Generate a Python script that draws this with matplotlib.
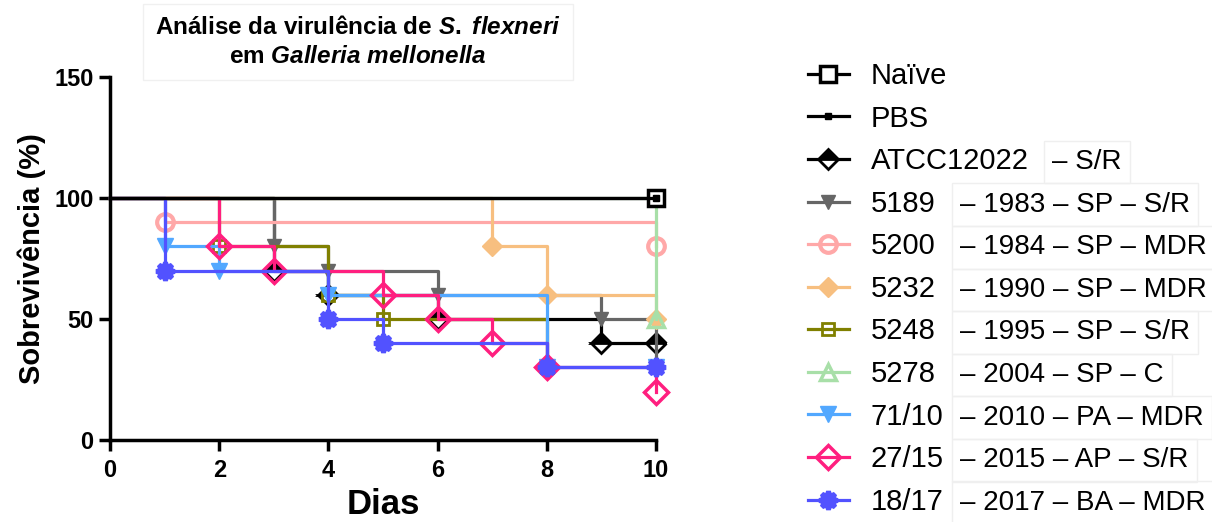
import matplotlib
matplotlib.use("Agg")
import matplotlib.pyplot as plt

plt.rcParams['font.family'] = ['Liberation Sans', 'DejaVu Sans']
plt.rcParams['mathtext.fontset'] = 'custom'
plt.rcParams['mathtext.rm'] = 'Liberation Sans:bold'
plt.rcParams['mathtext.it'] = 'Liberation Sans:italic:bold'

# Kaplan-Meier survival (%) per group: day of each step and survival after it
naive_days = [0, 10]
naive_surv = [100, 100]
pbs_days = [0, 10]
pbs_surv = [100, 100]
atcc_days = [0, 3, 4, 6, 9, 10]
atcc_surv = [100, 70, 60, 50, 40, 40]
s5189_days = [0, 3, 4, 6, 9, 10]
s5189_surv = [100, 80, 70, 60, 50, 30]
s5200_days = [0, 1, 10]
s5200_surv = [100, 90, 80]
s5232_days = [0, 7, 8, 10]
s5232_surv = [100, 80, 60, 50]
s5248_days = [0, 2, 4, 5, 8]
s5248_surv = [100, 80, 60, 50, 30]
s5278_days = [0, 10]
s5278_surv = [100, 50]
s7110_days = [0, 1, 2, 4, 8, 10]
s7110_surv = [100, 80, 70, 60, 30, 30]
s2715_days = [0, 2, 3, 5, 6, 7, 8, 10]
s2715_surv = [100, 80, 70, 60, 50, 40, 30, 20]
s1817_days = [0, 1, 4, 5, 8, 10]
s1817_surv = [100, 70, 50, 40, 30, 30]

names = ['Naïve', 'PBS', 'ATCC12022', '5189', '5200', '5232', '5248', '5278',
         '71/10', '27/15', '18/17']
suffixes = ['', '', '– S/R', '– 1983 – SP – S/R', '– 1984 – SP – MDR',
            '– 1990 – SP – MDR', '– 1995 – SP – S/R', '– 2004 – SP – C',
            '– 2010 – PA – MDR', '– 2015 – AP – S/R', '– 2017 – BA – MDR']

series = [
    (naive_days, naive_surv, dict(color='black', marker='s', ms=12, mfc='white', mew=2.5, zorder=6)),
    (pbs_days, pbs_surv, dict(color='black', marker='s', ms=4, mfc='black', mew=1, zorder=6)),
    (atcc_days, atcc_surv, dict(color='black', marker='D', ms=10, fillstyle='top',
                                mfc='black', mfcalt='white', mew=2)),
    (s5189_days, s5189_surv, dict(color='#666666', marker='v', ms=10, mew=1)),
    (s5200_days, s5200_surv, dict(color='#ffa8a8', marker='o', ms=12, mfc='none', mew=3)),
    (s5232_days, s5232_surv, dict(color='#f7bf80', marker='D', ms=10, mew=1)),
    (s5248_days, s5248_surv, dict(color='#808000', marker='s', ms=9, mfc='none', mew=2)),
    (s5278_days, s5278_surv, dict(color='#a8dfa8', marker='^', ms=11, mfc='none', mew=2.5)),
    (s7110_days, s7110_surv, dict(color='#52a8ff', marker='v', ms=11, mew=1)),
    (s2715_days, s2715_surv, dict(color='#ff1f7f', marker='D', ms=12, mfc='none', mew=2.5)),
    (s1817_days, s1817_surv, dict(color='#5252ff', marker=(8, 1, 0), ms=13, mew=3.5)),
]

fig = plt.figure(figsize=(12.12, 5.22), dpi=100)
ax = fig.add_axes([0.0908, 0.157, 0.4505, 0.6955])

for (days, surv, style), name in zip(series, names):
    ax.plot(days, surv, drawstyle='steps-post', lw=2.3, markevery=slice(1, None),
            label=name, clip_on=False, **style)

ax.set_xlim(0, 10)
ax.set_ylim(0, 150)
ax.set_xticks([0, 2, 4, 6, 8, 10])
ax.set_yticks([0, 50, 100, 150])
for s in ['top', 'right']:
    ax.spines[s].set_visible(False)
for s in ['left', 'bottom']:
    ax.spines[s].set_linewidth(2.5)
ax.tick_params(direction='out', length=8, width=2.5, labelsize=17, pad=4)
ax.tick_params(axis='x', pad=6)
for lab in ax.get_xticklabels() + ax.get_yticklabels():
    lab.set_fontweight('bold')
ax.set_xlabel('Dias', fontsize=25, fontweight='bold', labelpad=4)
ax.set_ylabel('Sobrevivência (%)', fontsize=21, fontweight='bold', labelpad=6)

fig.text(358 / 1212, 1 - 42 / 522,
         'Análise da virulência de $S.$ $flexneri$\nem $Galleria$ $mellonella$',
         ha='center', va='center', fontsize=17.5, fontweight='bold', linespacing=1.3,
         bbox=dict(boxstyle='square,pad=0.5', fc='white', ec='#f0f0f0', lw=1))

leg = fig.legend(loc='upper left', bbox_to_anchor=(808 / 1212, 1 - 62 / 522),
                 frameon=False, fontsize=21, handlelength=1.4, handletextpad=0.75,
                 labelspacing=0.5, borderpad=0, borderaxespad=0, numpoints=1)

# second column of the legend labels
fig.canvas.draw()
renderer = fig.canvas.get_renderer()
W, H = fig.bbox.width, fig.bbox.height
for txt, suffix, name in zip(leg.get_texts(), suffixes, names):
    if not suffix:
        continue
    bb = txt.get_window_extent(renderer)
    x = 1052 / W if name == 'ATCC12022' else 960 / W
    fig.text(x, bb.y0 / H, suffix, ha='left', va='bottom', fontsize=20,
             bbox=dict(boxstyle='square,pad=0.3', fc='none', ec='#efefef', lw=1))

fig.savefig('out.png', dpi=100)
